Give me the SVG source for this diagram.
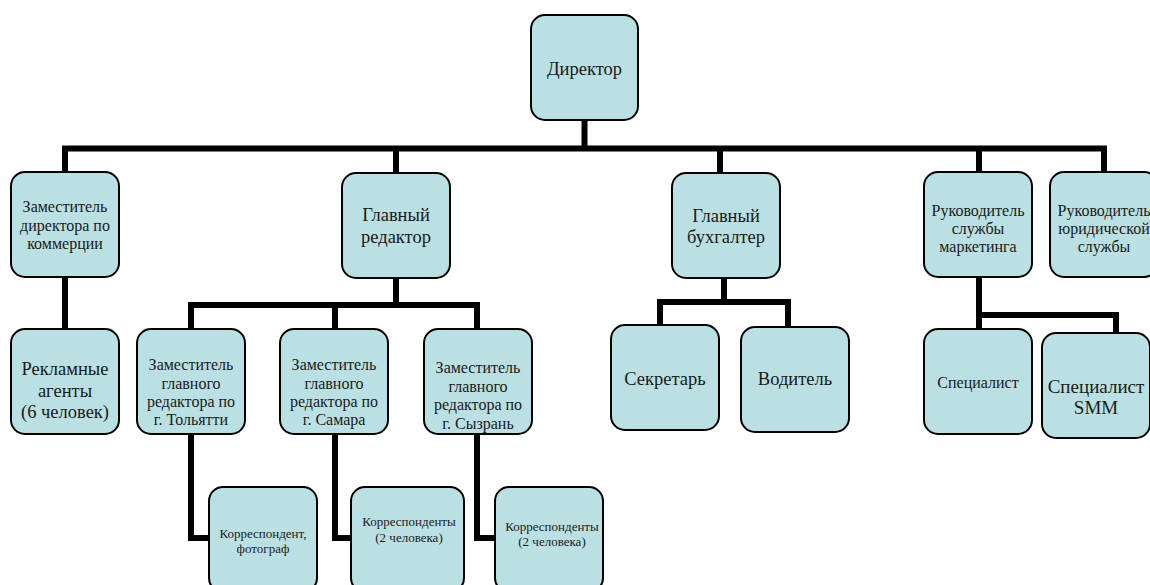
<svg xmlns="http://www.w3.org/2000/svg" width="1150" height="585" viewBox="0 0 1150 585">
<style>
.box{fill:#bbe0e3;stroke:#000;stroke-width:2}
.ln{fill:none;stroke:#000;stroke-width:6;stroke-linejoin:miter;stroke-linecap:square}
.tx{font-family:"Liberation Serif","Times New Roman",Tinos,"DejaVu Serif",serif;fill:#1a1a1a;text-anchor:middle}
.t18{font-size:18.5px}
.t16{font-size:16px}
.t13{font-size:13px}
.t19{font-size:19px}
</style>
<rect width="1150" height="585" fill="#fff"/>
<g id="connectors">
<path class="ln" d="M584.5 120 V148.5 M65 172 V148.5 H1104 V172 M396 148.5 V173 M720 148.5 V173 M979 148.5 V172"/>
<path class="ln" d="M65 277 V329"/>
<path class="ln" d="M396 278 V305 M191 329 V305 H477 V329 M335 305 V329"/>
<path class="ln" d="M191 434 V538 H209 M335 434 V538 H351 M477 434 V538 H495"/>
<path class="ln" d="M724 278 V302 M660 325 V302 H788 V327"/>
<path class="ln" d="M979 277 V315 M979 329 V315 H1116 V333"/>
</g>
<g class="tx">
<g id="director"><rect class="box" x="531" y="15" width="107" height="105" rx="14"/><text class="t18" x="584.5" y="75">Директор</text></g>
<g id="zam-commerce"><rect class="box" x="11" y="172" width="108" height="105" rx="14"/><text class="t16" x="65" y="212">Заместитель</text><text class="t16" x="65" y="231">директора по</text><text class="t16" x="65" y="249">коммерции</text></g>
<g id="chief-editor"><rect class="box" x="342" y="173" width="108" height="105" rx="14"/><text class="t18" x="396" y="221">Главный</text><text class="t18" x="396" y="243">редактор</text></g>
<g id="chief-accountant"><rect class="box" x="672" y="173" width="108" height="105" rx="14"/><text class="t18" x="726" y="222">Главный</text><text class="t18" x="726" y="243">бухгалтер</text></g>
<g id="marketing-head"><rect class="box" x="924" y="172" width="108" height="105" rx="14"/><text class="t16" x="978" y="216">Руководитель</text><text class="t16" x="978" y="234">службы</text><text class="t16" x="978" y="252">маркетинга</text></g>
<g id="legal-head"><rect class="box" x="1050" y="172" width="108" height="105" rx="14"/><text class="t16" x="1104" y="216">Руководитель</text><text class="t16" x="1104" y="234">юридической</text><text class="t16" x="1104" y="252">службы</text></g>
<g id="ad-agents"><rect class="box" x="11" y="329" width="108" height="105" rx="14"/><text class="t18" x="65" y="375">Рекламные</text><text class="t18" x="65" y="397">агенты</text><text class="t18" x="65" y="418">(6 человек)</text></g>
<g id="dep-togliatti"><rect class="box" x="137" y="329" width="108" height="105" rx="14"/><text class="t16" x="191" y="369.5">Заместитель</text><text class="t16" x="191" y="388.5">главного</text><text class="t16" x="191" y="406.5">редактора по</text><text class="t16" x="191" y="424.5">г. Тольятти</text></g>
<g id="dep-samara"><rect class="box" x="280" y="329" width="108" height="105" rx="14"/><text class="t16" x="334" y="369.5">Заместитель</text><text class="t16" x="334" y="388.5">главного</text><text class="t16" x="334" y="406.5">редактора по</text><text class="t16" x="334" y="424.5">г. Самара</text></g>
<g id="dep-syzran"><rect class="box" x="424" y="329" width="108" height="105" rx="14"/><text class="t16" x="478" y="372.5">Заместитель</text><text class="t16" x="478" y="391.5">главного</text><text class="t16" x="478" y="409.5">редактора по</text><text class="t16" x="478" y="428.5">г. Сызрань</text></g>
<g id="secretary"><rect class="box" x="611" y="325" width="108" height="105" rx="14"/><text class="t18" x="665" y="385">Секретарь</text></g>
<g id="driver"><rect class="box" x="741" y="327" width="108" height="105" rx="14"/><text class="t18" x="795" y="385">Водитель</text></g>
<g id="specialist"><rect class="box" x="924" y="329" width="108" height="105" rx="14"/><text class="t16" x="978" y="387.5">Специалист</text></g>
<g id="specialist-smm"><rect class="box" x="1042" y="333" width="108" height="105" rx="14"/><text class="t19" x="1096" y="392.5">Специалист</text><text class="t19" x="1096" y="413.5">SMM</text></g>
<g id="corr-togliatti"><rect class="box" x="209" y="487" width="108" height="105" rx="14"/><text class="t13" x="263" y="537.5">Корреспондент,</text><text class="t13" x="263" y="552.5">фотограф</text></g>
<g id="corr-samara"><rect class="box" x="351" y="487" width="113" height="105" rx="14"/><text class="t13" x="409" y="525.5">Корреспонденты</text><text class="t13" x="409" y="541.5">(2 человека)</text></g>
<g id="corr-syzran"><rect class="box" x="495" y="487" width="108" height="105" rx="14"/><text class="t13" x="552" y="530.5">Корреспонденты</text><text class="t13" x="552" y="545.5">(2 человека)</text></g>
</g>
</svg>
